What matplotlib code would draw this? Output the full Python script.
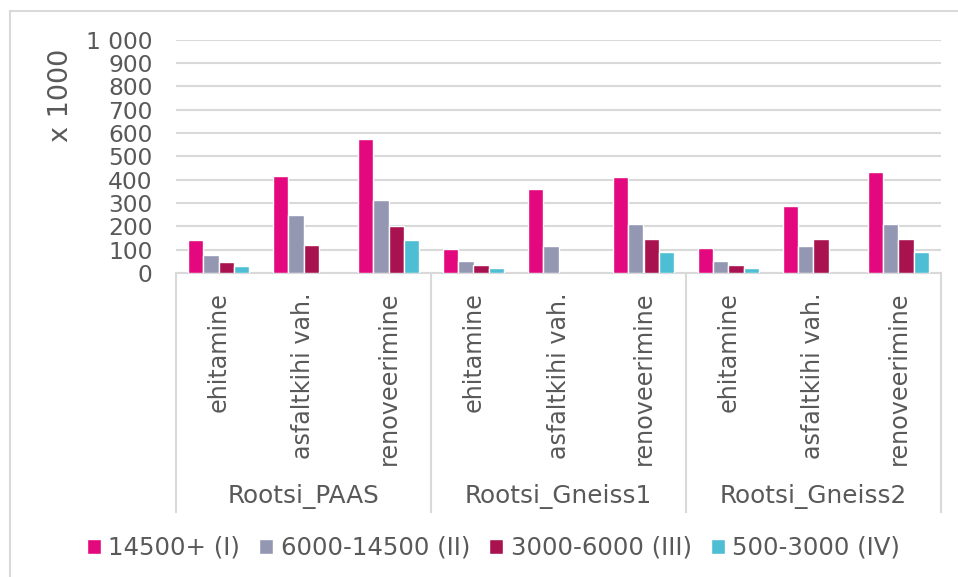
import matplotlib.pyplot as plt
import matplotlib as mpl
import matplotlib.transforms as mtransforms
from matplotlib.lines import Line2D
import numpy as np

mpl.rcParams['font.family'] = 'DejaVu Sans'
mpl.rcParams['font.size'] = 16

groups = ['Rootsi_PAAS', 'Rootsi_Gneiss1', 'Rootsi_Gneiss2']
subcats = ['ehitamine', 'asfaltkihi vah.', 'renoveerimine']
series = ['14500+ (I)', '6000-14500 (II)', '3000-6000 (III)', '500-3000 (IV)']
colors = ['#E4087F', '#9497B2', '#A8134F', '#4EBED4']

# values in thousands, order: PAAS x3, Gneiss1 x3, Gneiss2 x3
s1 = [143, 416, 576, 101, 360, 411, 107, 287, 433]
s2 = [76, 247, 313, 53, 114, 211, 53, 114, 211]
s3 = [47, 120, 201, 36, np.nan, 146, 36, 146, 146]
s4 = [31, np.nan, 141, 21, np.nan, 91, 21, np.nan, 91]
vals = [s1, s2, s3, s4]

yticks = [0, 100, 200, 300, 400, 500, 600, 700, 800, 900, 1000]
ylabels = ['0', '100', '200', '300', '400', '500', '600', '700', '800', '900', '1 000']

txt = '#595959'
grid = '#D9D9D9'

fig = plt.figure(figsize=(9.58, 5.77), dpi=100)
ax = fig.add_axes([176/958, 1-273/577, (941-176)/958, (273-39.7)/577])

x = np.arange(len(s1)) + 0.5
w = 0.18
for i in range(4):
    ax.bar(x + (i-1.5)*w, vals[i], w, color=colors[i], edgecolor='white',
           linewidth=1.0, label=series[i], zorder=3)

ax.set_xlim(0, 9)
ax.set_ylim(0, 1000)
ax.set_yticks(yticks)
ax.set_yticklabels(ylabels, color=txt, fontsize=16.8)
ax.tick_params(axis='y', length=0, pad=17)
ax.set_xticks([])
ax.yaxis.grid(True, color=grid, linewidth=1.5, zorder=0)
for s in ['top', 'right', 'left']:
    ax.spines[s].set_visible(False)
ax.spines['bottom'].set_color(grid)
ax.spines['bottom'].set_linewidth(1.5)

fig.text(61/958, 1-95/577, 'x 1000', rotation=90, ha='center', va='center',
         color=txt, fontsize=19.5)

trans = mtransforms.blended_transform_factory(ax.transData, ax.transAxes)
for k in range(4):
    ax.plot([3*k, 3*k], [0, -1.024], transform=trans, color=grid, linewidth=1.5,
            clip_on=False)
for j in range(9):
    ax.text(x[j], -0.0814, subcats[j % 3], rotation=90, ha='center', va='top',
            transform=trans, color=txt, fontsize=17.2)
for g in range(3):
    ax.text(3*g + 1.5, -0.96, groups[g], ha='center', va='center',
            transform=trans, color=txt, fontsize=17.8)

fig.legend(loc='center', bbox_to_anchor=(493.5/958, 1-548/577), ncol=4,
           frameon=False, handlelength=0.58, handleheight=0.58,
           handletextpad=0.3, columnspacing=0.78, labelcolor=txt,
           fontsize=17.6)

fig.add_artist(Line2D([10/958, 10/958], [0, 1-11/577], color=grid, linewidth=1.5))
fig.add_artist(Line2D([10/958, 1], [1-11/577, 1-11/577], color=grid, linewidth=1.5))

fig.savefig('out.png', dpi=100)
